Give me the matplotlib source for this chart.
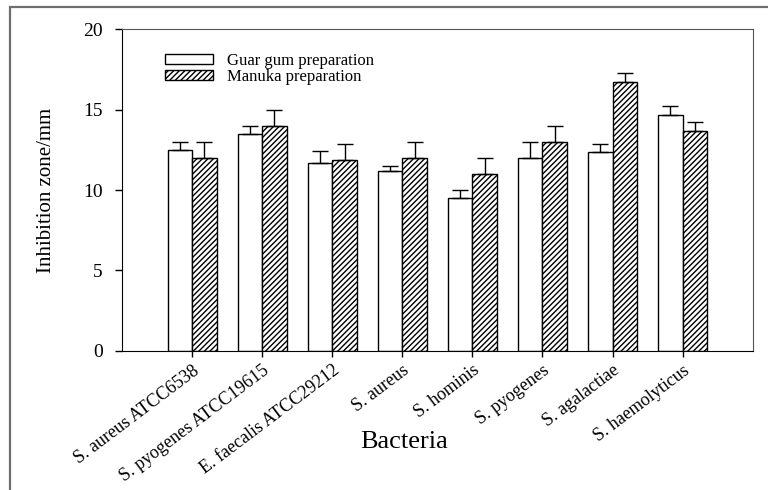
import numpy as np
import matplotlib
matplotlib.use('Agg')
import matplotlib.pyplot as plt
from matplotlib.patches import Rectangle

bacteria = ['S. aureus ATCC6538', 'S. pyogenes ATCC19615', 'E. faecalis ATCC29212',
            'S. aureus', 'S. hominis', 'S. pyogenes', 'S. agalactiae', 'S. haemolyticus']
guar = [12.5, 13.5, 11.7, 11.2, 9.5, 12.0, 12.35, 14.65]
guar_err = [0.5, 0.5, 0.73, 0.3, 0.5, 1.0, 0.55, 0.58]
manuka = [12.0, 14.0, 11.85, 12.0, 11.0, 13.0, 16.7, 13.65]
manuka_err = [1.0, 1.0, 1.0, 1.0, 1.0, 1.0, 0.58, 0.58]


def main():
    plt.rcParams['font.family'] = ['Liberation Serif', 'DejaVu Serif']
    plt.rcParams['hatch.linewidth'] = 1.0

    fig = plt.figure(figsize=(7.68, 4.90), dpi=100)
    ax = fig.add_axes([0.159, 0.284, 0.821, 0.656])

    # outer frame, cropped on the right and bottom
    fig.patches.append(Rectangle((10 / 768, -0.1), 1.2, 1 - 7.5 / 490 + 0.1,
                                 transform=fig.transFigure, fill=False,
                                 edgecolor='#6e6e6e', linewidth=1.6))

    x = np.arange(len(bacteria))
    w = 0.35
    err_kw = dict(ecolor='black', elinewidth=1.0, capsize=5.5, capthick=1.0)
    ax.bar(x - w / 2, guar, w, color='white', edgecolor='black', linewidth=1.0,
           yerr=[np.zeros(len(guar)), guar_err], error_kw=err_kw,
           label='Guar gum preparation')
    ax.bar(x + w / 2, manuka, w, color='white', edgecolor='black', linewidth=1.0,
           hatch='//////', yerr=[np.zeros(len(manuka)), manuka_err], error_kw=err_kw,
           label='Manuka preparation')

    ax.set_xlim(-1, 8)
    ax.set_ylim(0, 20)
    ax.set_yticks([0, 5, 10, 15, 20])
    ax.set_xticks(x)
    ax.set_xticklabels(bacteria, rotation=37, ha='right', rotation_mode='anchor',
                       fontsize=13)
    ax.tick_params(axis='y', labelsize=14, length=5, width=1, pad=9)
    ax.tick_params(axis='x', length=4, width=1, pad=4)
    for s in ['top', 'right']:
        ax.spines[s].set_color('#555555')
    ax.set_ylabel('Inhibition zone/mm', fontsize=15)
    ax.set_xlabel('Bacteria', fontsize=19)
    ax.xaxis.set_label_coords(0.448, -0.25)
    ax.yaxis.set_label_coords(-0.105, 0.5)

    ax.legend(loc='upper left', bbox_to_anchor=(0.068, 0.928), frameon=False,
              fontsize=12, handlelength=2.9, handleheight=0.55, labelspacing=0.0,
              handletextpad=0.85, borderpad=0, borderaxespad=0)

    fig.savefig('out.png', dpi=100)


if __name__ == '__main__':
    main()
